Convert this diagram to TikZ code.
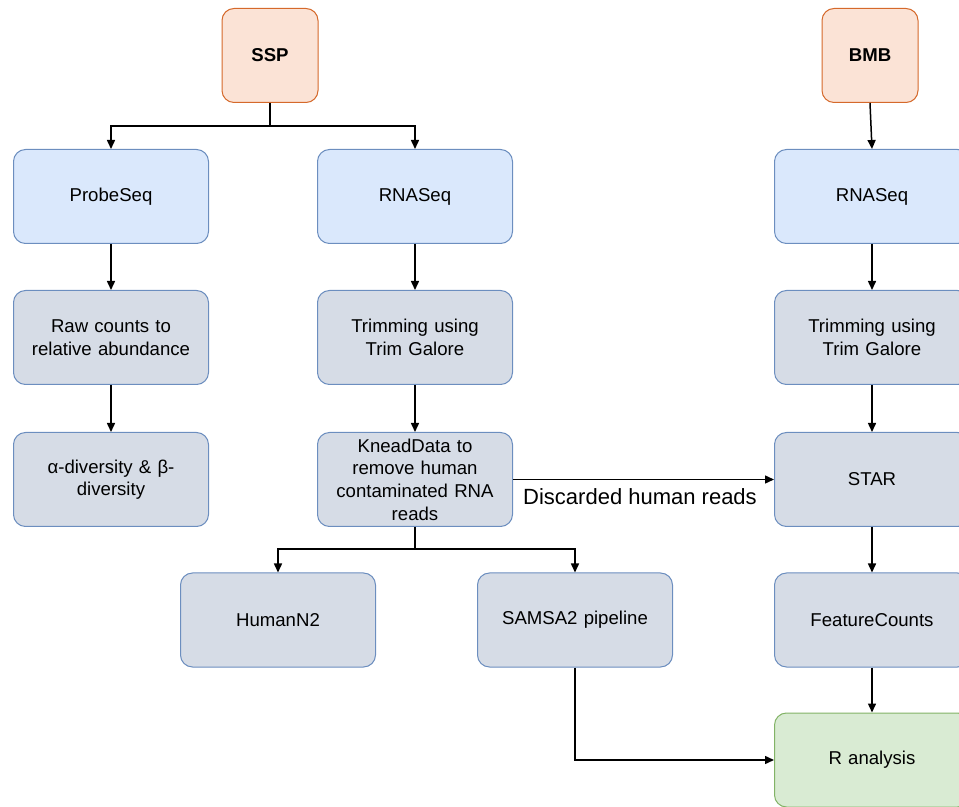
\documentclass[tikz,border=0pt]{standalone}
\usepackage{fontspec}
\setmainfont{Liberation Sans}
\usetikzlibrary{arrows.meta}
\definecolor{orfill}{HTML}{FBE3D6}
\definecolor{ordraw}{HTML}{D5692B}
\definecolor{blfill}{HTML}{DAE8FC}
\definecolor{bldraw}{HTML}{6C8EBF}
\definecolor{gyfill}{HTML}{D6DCE6}
\definecolor{grfill}{HTML}{D9EBD3}
\definecolor{grdraw}{HTML}{82B366}
\begin{document}
\begin{tikzpicture}[x=0.5pt,y=-0.5pt,>={Triangle[length=4.5pt,width=4pt]}]
  \tikzstyle{box}=[rectangle,rounded corners=6pt,draw,line width=0.5pt,minimum width=97.5pt,minimum height=47pt,text width=92pt,align=center,inner sep=0pt,font=\fontsize{9.3}{11.3}\selectfont]
  \tikzstyle{srcbox}=[box,fill=orfill,draw=ordraw,minimum width=48pt,text width=44pt,font=\fontsize{9.3}{11.3}\selectfont\bfseries]
  \tikzstyle{seqbox}=[box,fill=blfill,draw=bldraw]
  \tikzstyle{procbox}=[box,fill=gyfill,draw=bldraw]
  \tikzstyle{resbox}=[box,fill=grfill,draw=grdraw]
  \tikzstyle{arr}=[->,line width=0.75pt]
  \clip (0,0) rectangle (959,807);

  \node[srcbox] (ssp) at (270,55.5) {SSP};
  \node[srcbox] (bmb) at (870,55.5) {BMB};

  \node[seqbox] (L-1) at (111,196.5) {ProbeSeq};
  \node[seqbox] (M-1) at (415,196.5) {RNASeq};
  \node[seqbox] (R-1) at (872,196.5) {RNASeq};

  \foreach \name/\x/\y/\text in {L-2/111/337.5/{Raw counts to\\relative abundance}, L-3/111/479.5/{α-diversity \& β-\\diversity},
      M-2/415/337.5/{Trimming using\\Trim Galore}, M-3/415/479.5/{KneadData to\\remove human\\contaminated RNA\\reads},
      H-1/278/620/HumanN2, H-2/575/620/SAMSA2 pipeline,
      R-2/872/337.5/{Trimming using\\Trim Galore}, R-3/872/479.5/STAR, R-4/872/620/FeatureCounts}
    \node[procbox] (\name) at (\x,\y) {\text};

  \node[resbox] (R-5) at (872,760) {R analysis};

  \draw[arr] (ssp.south) -- ++(0,23) -| (L-1.north);
  \draw[arr] (ssp.south) -- ++(0,23) -| (M-1.north);
  \draw[arr] (bmb.south) -- (R-1.north);
  \foreach \from/\to in {L-1/L-2,L-2/L-3,M-1/M-2,M-2/M-3,R-1/R-2,R-2/R-3,R-3/R-4,R-4/R-5}
    { \draw[arr] (\from) -- (\to); }
  \draw[arr] (M-3.south) -- ++(0,22) -| (H-1.north);
  \draw[arr] (M-3.south) -- ++(0,22) -| (H-2.north);
  \draw[arr] (M-3.east) -- (R-3.west);
  \node[font=\fontsize{11}{13}\selectfont] (disc) at (640,497) {Discarded human reads};
  \draw[arr] (H-2.south) |- (R-5.west);
\end{tikzpicture}
\end{document}
